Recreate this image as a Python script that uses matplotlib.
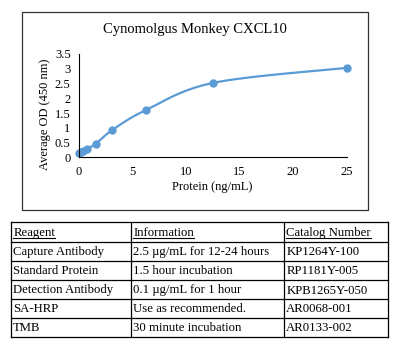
import numpy as np
import matplotlib
matplotlib.use("Agg")
import matplotlib.pyplot as plt
from matplotlib.patches import Rectangle
from matplotlib.lines import Line2D

# ---- data ----
protein = [0, 0.195, 0.39, 0.78, 1.5625, 3.125, 6.25, 12.5, 25]
od = [0.15, 0.19, 0.23, 0.29, 0.46, 0.93, 1.60, 2.52, 3.03]
x_ticks = [0, 5, 10, 15, 20, 25]
y_ticks = [0, 0.5, 1, 1.5, 2, 2.5, 3, 3.5]
y_tick_labels = ["0", "0.5", "1", "1.5", "2", "2.5", "3", "3.5"]
title = "Cynomolgus Monkey CXCL10"
xlabel = "Protein (ng/mL)"
ylabel = "Average OD (450 nm)"

table_header = ["Reagent", "Information", "Catalog Number"]
reagents = ["Capture Antibody", "Standard Protein", "Detection Antibody", "SA-HRP", "TMB"]
information = ["2.5 µg/mL for 12-24 hours", "1.5 hour incubation", "0.1 µg/mL for 1 hour",
               "Use as recommended.", "30 minute incubation"]
catalog = ["KP1264Y-100", "RP1181Y-005", "KPB1265Y-050", "AR0068-001", "AR0133-002"]

FONT = ["Liberation Serif", "DejaVu Serif"]
plt.rcParams['font.family'] = FONT
W, H = 398, 356
fig = plt.figure(figsize=(W / 100, H / 100), dpi=100)

def fx(px):
    return px / W

def fy(py):
    return 1 - py / H

# chart border
fig.add_artist(Rectangle((fx(21.7), fy(210)), fx(367.7) - fx(21.7), fy(12.3) - fy(210),
                         transform=fig.transFigure, fill=False, edgecolor="#333333", lw=0.9))

ax = fig.add_axes([fx(79), fy(157.3), fx(346.7) - fx(79), fy(54) - fy(157.3)])

# Catmull-Rom smoothing (Excel-like smoothed line)
def catmull(xs, ys, n=30):
    xs = np.asarray(xs, float); ys = np.asarray(ys, float)
    P = np.column_stack([xs, ys])
    P = np.vstack([P[0], P, P[-1]])
    out = []
    for i in range(1, len(P) - 2):
        p0, p1, p2, p3 = P[i - 1], P[i], P[i + 1], P[i + 2]
        t = np.linspace(0, 1, n)[:, None]
        c1 = p1 + (p2 - p0) / 6
        c2 = p2 - (p3 - p1) / 6
        seg = (1 - t) ** 3 * p1 + 3 * (1 - t) ** 2 * t * c1 + 3 * (1 - t) * t ** 2 * c2 + t ** 3 * p2
        out.append(seg)
    S = np.vstack(out)
    return S[:, 0], S[:, 1]

sx, sy = catmull(protein, od)
color = "#5B9BD5"
ax.plot(sx, sy, color=color, lw=1.6, solid_capstyle="round", clip_on=False)
ax.plot(protein, od, "o", color=color, ms=5, mec=color, clip_on=False)

ax.set_xlim(0, 25)
ax.set_ylim(0, 3.5)
ax.set_xticks(x_ticks)
ax.set_xticklabels([str(v) for v in x_ticks])
ax.set_yticks(y_ticks)
ax.set_yticklabels(y_tick_labels)
ax.tick_params(length=0, labelsize=9)
ax.tick_params(axis="x", pad=6)
ax.tick_params(axis="y", pad=6)
for s in ["top", "right"]:
    ax.spines[s].set_visible(False)
ax.spines["left"].set_color("#000000")
ax.spines["bottom"].set_color("#000000")
ax.spines["left"].set_linewidth(0.8)
ax.spines["bottom"].set_linewidth(0.8)
ax.patch.set_alpha(0)

fig.text(fx(195), fy(29.5), title, ha="center", va="center", fontsize=10.5)
fig.text(fx(212), fy(187), xlabel, ha="center", va="center", fontsize=9)
fig.text(fx(45), fy(114), ylabel, ha="center", va="center", rotation=90, fontsize=9)

# ---- table ----
cols = [10.7, 130.7, 283.7, 387.7]
rows = [222.3, 241.7, 261, 280, 299, 318, 336.7]
for c in cols:
    fig.add_artist(Line2D([fx(c), fx(c)], [fy(rows[0]), fy(rows[-1])], transform=fig.transFigure,
                          color="black", lw=0.9))
for r in rows:
    fig.add_artist(Line2D([fx(cols[0]), fx(cols[-1])], [fy(r), fy(r)], transform=fig.transFigure,
                          color="black", lw=0.9))

cells = [table_header] + [list(t) for t in zip(reagents, information, catalog)]
hdr_texts = []
for i, row in enumerate(cells):
    yc = (rows[i] + rows[i + 1]) / 2
    base = yc + 4.0
    for j, txt in enumerate(row):
        t = fig.text(fx(cols[j] + 2.5), fy(base), txt, ha="left", va="baseline", fontsize=9.2)
        if i == 0:
            hdr_texts.append((t, base))

fig.canvas.draw()
r = fig.canvas.get_renderer()
for t, base in hdr_texts:
    bb = t.get_window_extent(r)
    yl = fy(base + 1.8)
    fig.add_artist(Line2D([bb.x0 / W, bb.x1 / W], [yl, yl],
                          transform=fig.transFigure, color="black", lw=0.8))

fig.savefig("out.png", dpi=100)
